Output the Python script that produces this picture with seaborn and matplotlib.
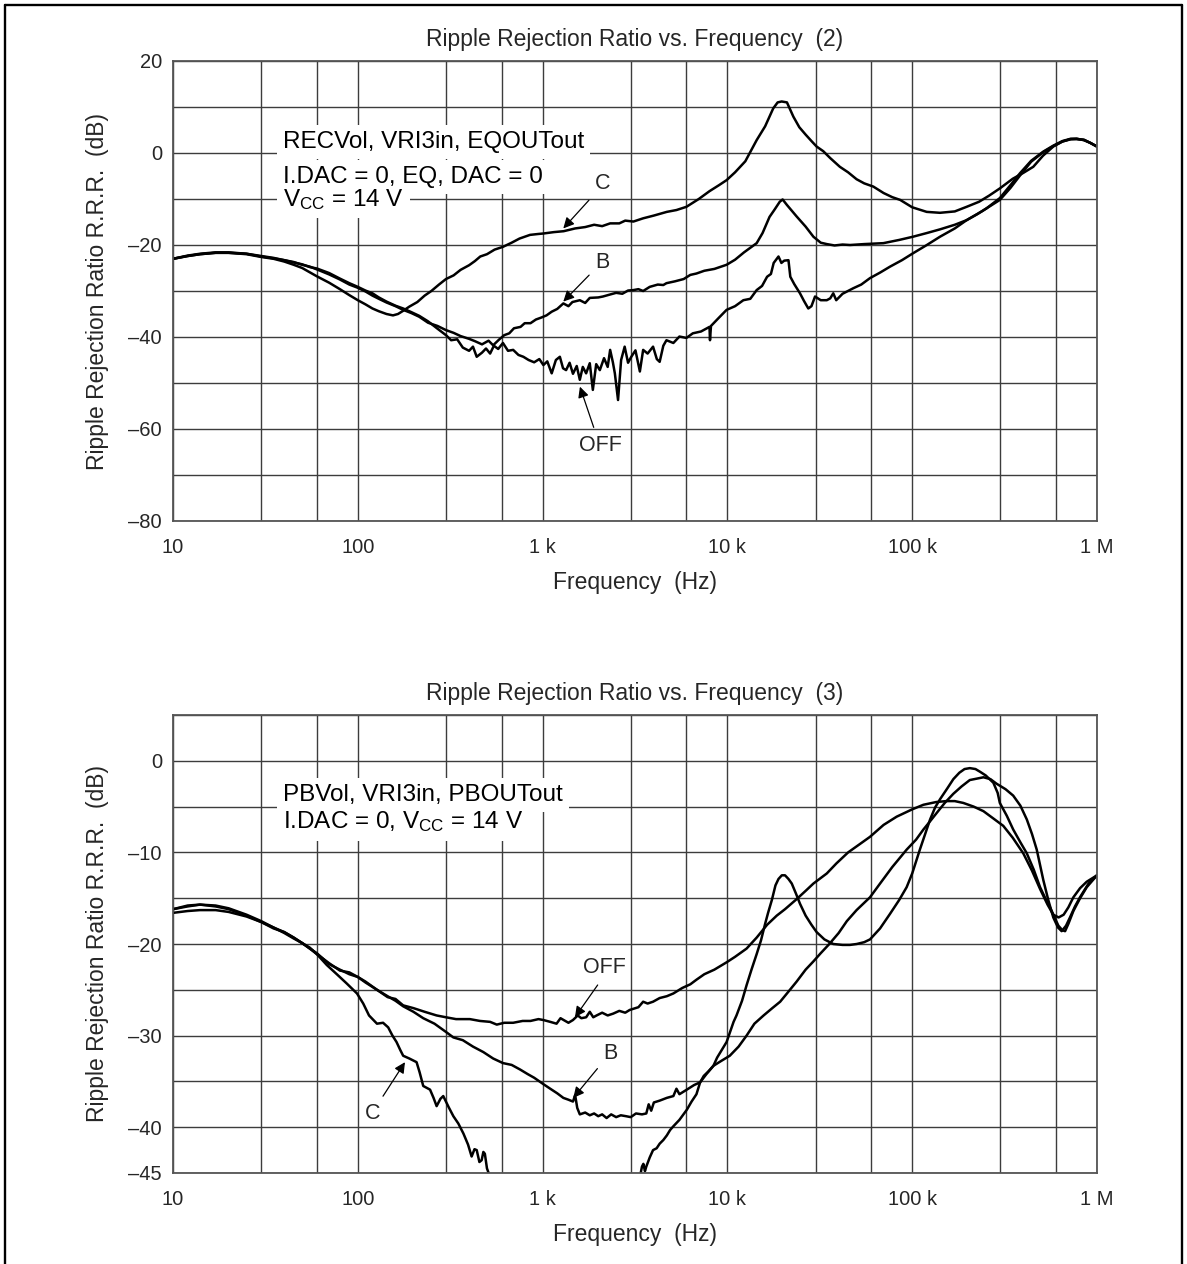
# RIPPLE REJECTION RATIO vs FREQUENCY (2) and (3)

## LOAD LIBRARIES
import pandas as pd
import matplotlib
matplotlib.use('Agg')
import matplotlib.pyplot as plt
from matplotlib.lines import Line2D
from matplotlib.ticker import NullFormatter
import seaborn as sns

## DATA
### Panel (2): RECVol, VRI3in, EQOUTout
c2_freq = [10, 12, 14, 17, 20, 25, 30, 35, 40, 45, 50, 60, 70, 80, 90, 100, 110, 120, 130, 143, 155, 165, 176,
           190, 210, 230, 250, 275, 300, 330, 360, 400, 430, 460, 500, 550, 610, 680, 750, 855, 950, 1010, 1150,
           1300, 1500, 1700, 1900, 2100, 2320, 2600, 2800, 3100, 3500, 4000, 4700, 5300, 6000, 7000, 8000, 9000,
           9900, 11000, 12500, 14400, 16000, 17700, 18700, 19660, 21000, 22750, 24500, 26500, 28500, 30400,
           33000, 36000, 40600, 45000, 50000, 55000, 61600, 70000, 78000, 86100, 100000, 119800, 141400, 170000,
           197000, 230000, 260000, 298000, 350000, 400000, 452000, 510000, 580000, 650000, 720000, 776000,
           850000, 920000, 1000000]
c2_db = [-23.0, -22.4, -22.0, -21.7, -21.7, -22.0, -22.6, -23.0, -23.6, -24.3, -25.0, -26.8, -28.2, -29.6, -30.9,
         -32.0, -32.9, -33.8, -34.4, -35.0, -35.3, -35.0, -34.3, -33.4, -32.4, -31.0, -30.0, -28.6, -27.4, -26.6,
         -25.4, -24.4, -23.5, -22.5, -22.0, -21.0, -20.4, -19.5, -18.6, -17.8, -17.6, -17.5, -17.2, -17.0, -16.4,
         -16.1, -15.6, -15.9, -15.3, -15.3, -14.7, -14.9, -14.2, -13.6, -12.8, -12.4, -11.7, -10.0, -8.3, -7.0,
         -5.9, -4.2, -1.8, 2.8, 5.8, 9.7, 11.0, 11.2, 11.0, 7.9, 5.6, 4.0, 2.6, 1.4, 0.4, -1.1, -3.0, -4.2, -5.7,
         -6.6, -7.3, -8.7, -9.6, -10.2, -11.8, -12.8, -13.0, -12.7, -11.7, -10.6, -9.3, -7.7, -5.6, -4.3, -3.0,
         -0.6, 1.4, 2.5, 3.0, 3.0, 2.9, 2.2, 1.4]

b2_freq = [10, 12, 14, 17, 20, 25, 30, 35, 40, 45, 50, 55, 60, 70, 80, 90, 100, 110, 120, 130, 143, 160, 176, 195,
           215, 240, 270, 300, 330, 360, 400, 430, 470, 510, 540, 580, 620, 660, 700, 760, 800, 860, 920, 980,
           1050, 1120, 1200, 1295, 1380, 1450, 1590, 1700, 1800, 2000, 2120, 2300, 2500, 2700, 2900, 3100, 3300,
           3500, 3800, 4200, 4500, 4680, 5200, 5800, 6300, 6800, 7500, 8500, 9900, 11000, 12300, 14400, 15500,
           16900, 18000, 19200, 19900, 21000, 23700, 26500, 29200, 32000, 34500, 38000, 42000, 46100, 55000,
           69800, 85000, 101000, 120000, 141400, 170000, 197000, 225000, 253000, 298000, 340000, 383000, 440000,
           512000, 580000, 650000, 720000, 776000, 850000, 920000, 1000000]
b2_db = [-23.0, -22.4, -22.0, -21.7, -21.7, -21.9, -22.5, -22.9, -23.3, -23.7, -24.3, -24.7, -25.3, -26.4, -27.5,
         -28.6, -29.3, -30.1, -31.0, -31.7, -32.5, -33.3, -34.1, -34.8, -35.6, -36.9, -37.6, -38.5, -39.1, -39.8,
         -40.4, -40.9, -41.6, -40.8, -41.8, -40.6, -39.6, -39.2, -38.1, -37.8, -37.0, -37.0, -36.2, -35.8, -35.3,
         -34.5, -33.9, -32.7, -33.3, -32.4, -32.0, -32.6, -31.5, -31.4, -31.2, -30.8, -30.4, -30.6, -29.9, -29.8,
         -29.6, -30.0, -29.1, -28.6, -28.7, -28.3, -27.9, -27.4, -26.5, -26.2, -25.6, -25.2, -24.3, -23.2, -21.6,
         -19.6, -17.4, -13.9, -12.3, -10.6, -10.1, -11.3, -13.8, -16.0, -18.2, -19.5, -19.8, -20.1, -19.9, -20.0,
         -19.8, -19.6, -18.9, -18.2, -17.4, -16.6, -15.6, -14.6, -13.3, -12.0, -9.8, -7.0, -4.4, -1.7, 0.3, 1.6,
         2.6, 3.1, 3.1, 2.8, 2.2, 1.4]

off2_freq = [10, 12, 14, 17, 20, 25, 30, 35, 40, 45, 50, 55, 60, 70, 80, 90, 100, 110, 120, 130, 143, 160, 176,
             195, 215, 240, 270, 300, 320, 345, 370, 400, 420, 440, 470, 494, 520, 545, 575, 610, 650, 693, 740,
             787, 840, 900, 960, 1010, 1060, 1120, 1180, 1240, 1290, 1340, 1400, 1460, 1530, 1590, 1650, 1720,
             1800, 1870, 1950, 2040, 2150, 2250, 2320, 2400, 2460, 2560, 2660, 2780, 2900, 3020, 3180, 3360, 3500,
             3700, 3960, 4150, 4300, 4500, 4680, 5100, 5500, 6000, 6500, 7200, 8000, 8050, 8150, 8900, 9900,
             11000, 12200, 13300, 14400, 15400, 16400, 17200, 17800, 18900, 19600, 20300, 21400, 21900, 23000,
             24700, 26000, 27400, 28500, 29800, 32000, 34500, 36000, 37400, 38800, 42000, 48000, 53000, 59100,
             67000, 75900, 88000, 101000, 120000, 141400, 170000, 197000, 240000, 298000, 340000, 383000, 440000,
             512000, 580000, 650000, 720000, 776000, 850000, 920000, 1000000]
off2_db = [-23.0, -22.3, -21.9, -21.6, -21.6, -21.9, -22.4, -22.8, -23.3, -23.8, -24.2, -24.8, -25.1, -26.1,
           -27.3, -28.3, -29.1, -29.9, -30.5, -31.4, -32.3, -33.2, -33.8, -34.6, -35.4, -36.6, -38.2, -39.6, -40.7,
           -40.5, -42.3, -43.0, -42.1, -44.3, -43.4, -42.5, -43.6, -41.9, -42.6, -41.3, -43.0, -42.8, -43.9, -44.3,
           -45.0, -45.5, -44.8, -46.1, -45.3, -47.9, -45.0, -44.3, -46.8, -47.2, -45.6, -48.0, -46.3, -49.3, -46.5,
           -47.9, -45.7, -51.5, -45.9, -47.2, -44.6, -46.5, -42.8, -45.5, -47.9, -53.7, -45.0, -42.1, -45.6, -44.3,
           -42.9, -47.5, -42.8, -43.6, -42.1, -44.8, -45.4, -41.9, -40.7, -41.3, -39.9, -40.2, -39.2, -38.8, -37.8,
           -40.7, -37.6, -36.0, -34.1, -33.3, -32.0, -31.7, -29.8, -28.9, -26.9, -26.3, -23.9, -22.5, -23.9, -23.4,
           -23.3, -26.9, -28.5, -30.5, -32.2, -33.8, -33.3, -31.2, -32.0, -32.0, -31.6, -30.5, -32.0, -30.6, -29.4,
           -28.6, -27.2, -26.0, -24.7, -23.3, -21.8, -20.0, -18.2, -16.4, -14.6, -12.6, -10.2, -7.6, -4.9, -1.9,
           0.2, 1.5, 2.5, 3.0, 3.1, 2.8, 2.2, 1.4]

### Panel (3): PBVol, VRI3in, PBOUTout
off3_freq = [10, 12, 14, 17, 20, 25, 30, 35, 40, 45, 50, 55, 60, 70, 80, 90, 100, 110, 127, 145, 160, 176, 200,
             230, 267, 300, 340, 404, 458, 520, 565, 620, 693, 780, 860, 950, 1010, 1100, 1190, 1250, 1300, 1380,
             1460, 1550, 1620, 1720, 1800, 1880, 1960, 2100, 2250, 2410, 2600, 2800, 2960, 3300, 3500, 3700, 3960,
             4300, 4700, 5100, 5700, 6300, 6800, 7500, 8500, 9900, 11000, 12700, 14400, 16400, 18500, 20500,
             23700, 26500, 29200, 34500, 38900, 45000, 52000, 59100, 70000, 82400, 100000, 115000, 135000, 153000,
             170000, 189000, 215000, 243000, 275000, 311000, 350000, 399000, 445000, 492000, 540000, 580000,
             620000, 660000, 700000, 745000, 810000, 880000, 1000000]
off3_db = [-16.2, -15.9, -15.7, -15.8, -16.1, -16.8, -17.5, -18.2, -18.7, -19.3, -19.9, -20.5, -21.0, -22.2,
           -22.8, -23.3, -23.6, -24.2, -25.0, -25.8, -26.0, -26.7, -27.0, -27.4, -27.8, -28.0, -28.2, -28.2, -28.4,
           -28.5, -28.8, -28.6, -28.6, -28.4, -28.4, -28.2, -28.3, -28.5, -28.7, -28.1, -28.3, -28.6, -28.3, -27.8,
           -28.1, -28.0, -27.4, -28.0, -27.8, -27.5, -27.8, -27.6, -27.3, -27.5, -27.2, -26.9, -26.3, -26.5, -26.3,
           -25.9, -25.7, -25.4, -24.8, -24.4, -23.9, -23.3, -22.8, -22.0, -21.4, -20.5, -19.3, -17.9, -16.9, -16.2,
           -15.1, -14.2, -13.4, -12.3, -11.2, -10.0, -9.1, -8.3, -7.0, -6.1, -5.3, -4.8, -4.5, -4.4, -4.4, -4.6,
           -5.0, -5.5, -6.3, -7.1, -8.4, -10.1, -12.0, -14.0, -15.7, -16.8, -17.1, -16.8, -16.0, -14.9, -13.9,
           -13.2, -12.5]

b3_freq = [10, 12, 14, 17, 20, 25, 30, 35, 40, 45, 50, 55, 60, 70, 80, 90, 100, 110, 127, 145, 160, 176, 200,
           226, 260, 300, 329, 370, 420, 478, 540, 610, 680, 755, 830, 900, 1010, 1100, 1200, 1295, 1380, 1460,
           1500, 1540, 1590, 1700, 1800, 1900, 2000, 2100, 2220, 2350, 2500, 2650, 2830, 3000, 3200, 3450, 3640,
           3750, 3870, 4000, 4300, 4700, 5100, 5300, 5500, 6030, 6600, 7120, 7700, 8400, 9200, 10300, 11500,
           12700, 14000, 15700, 17500, 19300, 21000, 23700, 26500, 29200, 32000, 35600, 40000, 44300, 50000,
           59100, 67000, 78000, 93300, 105000, 115000, 125000, 135600, 150000, 167000, 185000, 205000, 243000,
           265000, 286000, 320000, 352000, 385000, 417000, 445000, 472000, 512000, 545000, 580000, 615000,
           644000, 680000, 714000, 760000, 809000, 900000, 1000000]
b3_db = [-16.6, -16.4, -16.3, -16.3, -16.5, -17.0, -17.6, -18.2, -18.8, -19.4, -19.9, -20.5, -21.1, -22.1, -22.9,
         -23.1, -23.6, -24.1, -25.0, -25.7, -26.2, -26.8, -27.4, -28.1, -28.7, -29.6, -30.2, -30.5, -31.2, -31.8,
         -32.5, -33.0, -33.2, -33.7, -34.2, -34.6, -35.3, -35.8, -36.3, -36.8, -37.0, -37.2, -36.5, -37.9, -38.6,
         -38.4, -38.7, -38.5, -38.8, -38.6, -39.0, -38.6, -38.9, -38.7, -38.8, -38.9, -38.5, -38.6, -38.5, -37.5,
         -38.2, -37.3, -37.1, -36.8, -36.6, -35.8, -36.4, -35.9, -35.4, -35.1, -34.2, -33.3, -32.8, -32.2, -31.2,
         -30.0, -28.7, -27.8, -27.0, -26.3, -25.4, -24.1, -22.8, -21.9, -21.0, -20.0, -18.8, -17.5, -16.3, -14.9,
         -13.4, -11.6, -9.7, -8.6, -7.5, -6.6, -5.7, -4.6, -3.6, -2.8, -2.1, -1.8, -2.0, -2.5, -3.1, -3.8, -4.9,
         -6.4, -8.0, -9.7, -13.0, -15.2, -17.1, -18.2, -18.6, -18.0, -17.1, -15.9, -14.9, -13.4, -12.5]

c3_freq = [10, 12, 14, 17, 20, 25, 30, 35, 40, 45, 50, 55, 60, 68, 77, 87, 99, 107, 115, 127, 137, 146, 154, 162,
           170, 176, 190, 208, 216, 226, 246, 257, 267, 280, 290, 310, 329, 350, 373, 395, 413, 428, 440, 455, 468,
           478, 487, 500, 519, 540, 3300, 3365, 3450, 3510, 3580, 3640, 3800, 3960, 4140, 4300, 4500, 4700, 4900,
           5100, 5500, 6030, 6400, 6800, 7120, 7450, 7900, 8400, 8800, 9300, 9900, 10800, 11200, 12000, 12700,
           13500, 14400, 15200, 16000, 16600, 17400, 18200, 18900, 19700, 20500, 21400, 22300, 23500, 24700,
           26500, 28500, 30400, 33500, 37400, 42000, 46000, 50100, 55000, 59100, 67000, 75900, 85000, 93300,
           100000, 110000, 118000, 125000, 133000, 141400, 155000, 167000, 180000, 192000, 205000, 220000,
           233000, 250000, 275000, 290000, 298000, 325000, 352000, 385000, 417000, 455000, 492000, 525000,
           557000, 590000, 618000, 650000, 672000, 700000, 745000, 810000, 880000, 1000000]
c3_db = [-16.2, -15.8, -15.7, -15.9, -16.2, -16.9, -17.6, -18.3, -18.7, -19.3, -19.9, -20.4, -21.1, -22.3, -23.3,
         -24.3, -25.4, -26.5, -27.8, -28.7, -28.6, -29.1, -30.0, -30.7, -31.6, -32.2, -32.5, -32.9, -34.0, -35.5,
         -35.9, -36.8, -37.7, -36.9, -36.6, -37.8, -38.8, -39.6, -40.7, -41.9, -43.2, -42.4, -42.5, -43.8, -43.6,
         -42.7, -42.9, -44.5, -45.4, -47.0, -47.0, -45.4, -44.3, -44.0, -44.8, -44.3, -43.3, -42.5, -42.3, -41.8,
         -41.4, -40.9, -40.3, -39.9, -39.2, -38.1, -37.2, -36.4, -35.1, -34.4, -33.9, -33.3, -32.4, -31.6, -30.7,
         -28.5, -27.8, -26.2, -24.5, -22.8, -21.1, -19.6, -17.8, -16.6, -15.2, -13.6, -12.9, -12.5, -12.5, -12.9,
         -13.4, -14.5, -15.6, -16.9, -17.9, -18.7, -19.5, -20.0, -20.1, -20.1, -20.0, -19.8, -19.5, -18.3, -16.7,
         -15.2, -13.8, -12.3, -9.7, -7.9, -6.4, -5.1, -4.2, -3.0, -2.0, -1.3, -0.9, -0.8, -0.9, -1.2, -1.6, -2.4,
         -3.5, -4.6, -6.0, -7.5, -8.9, -10.1, -11.9, -13.8, -15.0, -16.0, -17.1, -18.0, -18.5, -18.6, -17.8,
         -16.4, -15.0, -13.8, -12.5]

### Axis ticks and labels
x_major = [10, 100, 1000, 10000, 100000, 1000000]
x_labels = ['10', '100', '1 k', '10 k', '100 k', '1 M']
x_minor = [30, 60, 300, 600, 3000, 6000, 30000, 60000, 300000, 600000]

y2_major = [20, 0, -20, -40, -60, -80]
y2_labels = ['20', '0', '–20', '–40', '–60', '–80']
y2_minor = [10, -10, -30, -50, -70]

y3_major = [0, -10, -20, -30, -40, -45]
y3_labels = ['0', '–10', '–20', '–30', '–40', '–45']
y3_minor = [5, -5, -15, -25, -35]

## STYLE
sns.set_theme(style='white')
plt.rcParams['font.family'] = ['Liberation Sans', 'DejaVu Sans']
plt.rcParams['mathtext.fontset'] = 'custom'
plt.rcParams['mathtext.rm'] = 'Liberation Sans'
plt.rcParams['mathtext.it'] = 'Liberation Sans'
plt.rcParams['axes.axisbelow'] = True
FS_TICK = 14.5   # tick labels
FS_AX = 16.5     # titles and axis labels
FS_BOX = 17.5    # condition text
FS_CRV = 15.5    # curve names


def draw_panel(ax, curves, ylim, ymaj, ylab, ymin, title):
    ax.set_xscale('log')
    for f, db in curves:
        df = pd.DataFrame({'freq': f, 'db': db})
        sns.lineplot(data=df, x='freq', y='db', ax=ax, color='black', lw=1.8,
                     estimator=None, sort=False)
    ax.set_xlim(10, 1e6)
    ax.set_ylim(*ylim)
    ax.set_xticks(x_major)
    ax.set_xticklabels(x_labels, fontsize=FS_TICK)
    ax.set_xticks(x_minor, minor=True)
    ax.xaxis.set_minor_formatter(NullFormatter())
    ax.set_yticks(ymaj)
    ax.set_yticklabels(ylab, fontsize=FS_TICK)
    ax.set_yticks(ymin, minor=True)
    ax.grid(which='both', color='#3c3c3c', lw=1.0)
    ax.tick_params(which='both', length=0)
    ax.tick_params(axis='x', pad=12)
    ax.tick_params(axis='y', pad=8)
    for s in ax.spines.values():
        s.set_color('#555555')
        s.set_linewidth(1.3)
    ax.set_xlabel('Frequency  (Hz)', fontsize=FS_AX, labelpad=10)
    ax.set_ylabel('Ripple Rejection Ratio R.R.R.  (dB)', fontsize=FS_AX, labelpad=14)
    ax.set_title(title, fontsize=FS_AX, pad=11)


def box_text(ax, x, y, s):
    # white patch first (invisible glyphs), then the text on top of every patch
    ax.text(x, y, s, fontsize=FS_BOX, va='baseline', ha='left', zorder=4, color=(0, 0, 0, 0),
            bbox=dict(boxstyle='square,pad=0.25', facecolor='white', edgecolor='none'))
    ax.text(x, y, s, fontsize=FS_BOX, va='baseline', ha='left', zorder=5, color='black')


def curve_label(ax, s, xy, xytext, relpos):
    ax.annotate(s, xy=xy, xytext=xytext, fontsize=FS_CRV, ha='center', va='center', zorder=5,
                arrowprops=dict(arrowstyle='-|>', color='black', lw=0.9, mutation_scale=16,
                                shrinkA=3, shrinkB=0, relpos=relpos))


## FIGURE
fig = plt.figure(figsize=(11.87, 12.64), dpi=100)
ax1 = fig.add_axes([173 / 1187, 1 - 521 / 1264, 924 / 1187, 460 / 1264])
ax2 = fig.add_axes([173 / 1187, 1 - 1173 / 1264, 924 / 1187, 458 / 1264])

draw_panel(ax1, [(c2_freq, c2_db), (b2_freq, b2_db), (off2_freq, off2_db)],
           (-80, 20), y2_major, y2_labels, y2_minor,
           'Ripple Rejection Ratio vs. Frequency  (2)')
draw_panel(ax2, [(off3_freq, off3_db), (b3_freq, b3_db), (c3_freq, c3_db)],
           (-45, 5), y3_major, y3_labels, y3_minor,
           'Ripple Rejection Ratio vs. Frequency  (3)')

### condition boxes
box_text(ax1, 39.4, 1.0, 'RECVol, VRI3in, EQOUTout')
box_text(ax1, 39.4, -6.5, 'I.DAC = 0, EQ, DAC = 0')
box_text(ax1, 39.4, -11.5, r'V$_{\mathrm{CC}}$ = 14 V')
box_text(ax2, 39.4, -4.4, 'PBVol, VRI3in, PBOUTout')
box_text(ax2, 39.4, -7.4, r'I.DAC = 0, V$_{\mathrm{CC}}$ = 14 V')

### curve labels
curve_label(ax1, 'C', (1294, -16.4), (2108, -6.6), (0.0, 0.0))
curve_label(ax1, 'B', (1294, -32.3), (2108, -23.8), (0.0, 0.2))
curve_label(ax1, 'OFF', (1592, -50.8), (2056, -63.5), (0.4, 1.0))
curve_label(ax2, 'OFF', (1496, -28.0), (2163, -22.6), (0.45, 0.0))
curve_label(ax2, 'B', (1466, -36.8), (2329, -31.9), (0.0, 0.1))
curve_label(ax2, 'C', (180, -32.9), (120, -38.5), (0.9, 1.0))

### outer frame (left, top, right)
for xs, ys in [([5 / 1187, 5 / 1187], [0, 1 - 5 / 1264]),
               ([5 / 1187, 1182 / 1187], [1 - 5 / 1264, 1 - 5 / 1264]),
               ([1182 / 1187, 1182 / 1187], [1 - 5 / 1264, 0])]:
    fig.add_artist(Line2D(xs, ys, transform=fig.transFigure, color='black', lw=1.7))

plt.savefig('out.png', dpi=100)
